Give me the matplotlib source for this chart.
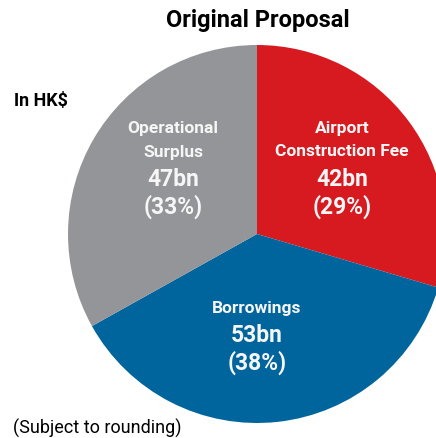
import matplotlib
matplotlib.use("Agg")
import matplotlib.pyplot as plt

names = ["Airport\nConstruction Fee", "Borrowings", "Operational\nSurplus"]
amounts = [42, 53, 47]          # HK$ bn
shares = [29, 38, 33]           # % as printed (subject to rounding)
colors = ["#d71920", "#00659c", "#939598"]

plt.rcParams['font.family'] = ['Roboto', 'DejaVu Sans']

H = 439


def Y(y):
    # pixel row from top -> data y (y-up)
    return H - y


fig = plt.figure(figsize=(4.36, 4.39), dpi=100)
ax = fig.add_axes([0, 0, 1, 1])

# pie in pixel coordinates, clipped on the right edge like the original
wedges, _ = ax.pie(amounts, colors=colors, startangle=90, counterclock=False,
                   center=(257, Y(235)), radius=189,
                   wedgeprops=dict(linewidth=0))
ax.set_xlim(0, 436)
ax.set_ylim(0, H)
ax.set_aspect('equal')
ax.axis('off')

txt = '#f6f6f6'
# x position and pixel row of the first label line for each slice
label_pos = [(342, 129), (257, 308), (173, 129)]
for (x, y), name, amt, pct in zip(label_pos, names, amounts, shares):
    for line in name.split("\n"):
        ax.text(x, Y(y), line, ha='center', va='center', color=txt,
                fontsize=12.5, fontweight='bold')
        y += 23
    y += 5
    ax.text(x, Y(y), f"{amt}bn", ha='center', va='center', color=txt,
            fontsize=16.5, fontweight='bold')
    ax.text(x, Y(y + 27), f"({pct}%)", ha='center', va='center', color=txt,
            fontsize=16.5, fontweight='bold')

ax.text(258, Y(20), "Original Proposal", ha='center', va='center',
        fontsize=17, fontweight='bold', color='black')
ax.text(14, Y(101), "In HK$", ha='left', va='center', fontsize=13,
        fontweight='bold', color='black')
ax.text(13, Y(428), "(Subject to rounding)", ha='left', va='center',
        fontsize=13, color='black')

fig.savefig("out.png", dpi=100)
